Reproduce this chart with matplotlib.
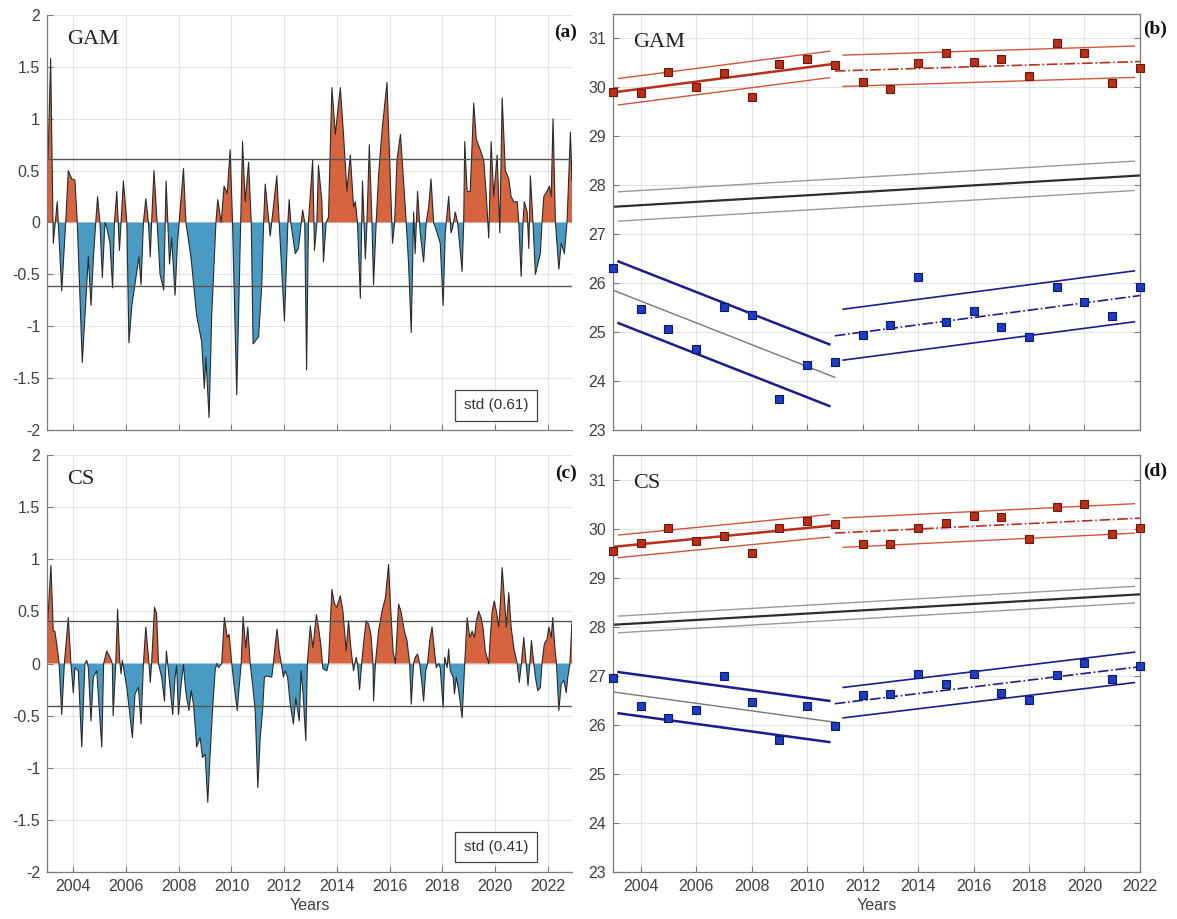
import numpy as np
import matplotlib
matplotlib.use("Agg")
import matplotlib.pyplot as plt
from matplotlib.ticker import FuncFormatter

plt.rcParams["axes.unicode_minus"] = False
plt.rcParams["font.family"] = ["Liberation Sans", "DejaVu Sans"]

# ---- anomaly series (turning points) ----
gam_t = [2003.00, 2003.04, 2003.14, 2003.24, 2003.39, 2003.56, 2003.71, 2003.81, 2003.94, 2004.06,
         2004.15, 2004.34, 2004.57, 2004.67, 2004.76, 2004.85, 2004.92, 2005.01, 2005.10, 2005.20,
         2005.27, 2005.39, 2005.49, 2005.56, 2005.65, 2005.75, 2005.90, 2006.03, 2006.11, 2006.22,
         2006.49, 2006.57, 2006.66, 2006.75, 2006.85, 2006.92, 2006.97, 2007.06, 2007.18, 2007.29,
         2007.43, 2007.52, 2007.65, 2007.73, 2007.86, 2007.95, 2008.18, 2008.27, 2008.33, 2008.47,
         2008.68, 2008.87, 2008.97, 2009.03, 2009.15, 2009.25, 2009.41, 2009.48, 2009.61, 2009.72,
         2009.84, 2009.95, 2010.04, 2010.20, 2010.42, 2010.52, 2010.65, 2010.75, 2010.82, 2011.03,
         2011.15, 2011.22, 2011.28, 2011.47, 2011.72, 2011.81, 2012.01, 2012.14, 2012.19, 2012.25,
         2012.42, 2012.54, 2012.70, 2012.78, 2012.85, 2012.92, 2013.08, 2013.15, 2013.24, 2013.30,
         2013.43, 2013.49, 2013.59, 2013.68, 2013.81, 2013.94, 2014.13, 2014.25, 2014.38, 2014.51,
         2014.63, 2014.70, 2014.78, 2014.89, 2014.97, 2015.08, 2015.14, 2015.23, 2015.33, 2015.39,
         2015.49, 2015.58, 2015.71, 2015.90, 2016.03, 2016.11, 2016.19, 2016.28, 2016.41, 2016.53,
         2016.63, 2016.72, 2016.82, 2016.91, 2016.97, 2017.06, 2017.16, 2017.29, 2017.39, 2017.48,
         2017.57, 2017.67, 2017.80, 2017.92, 2018.03, 2018.11, 2018.24, 2018.33, 2018.39, 2018.49,
         2018.58, 2018.75, 2018.81, 2018.85, 2018.94, 2019.06, 2019.19, 2019.29, 2019.44, 2019.57,
         2019.67, 2019.76, 2019.85, 2019.95, 2020.08, 2020.18, 2020.27, 2020.39, 2020.52, 2020.61,
         2020.71, 2020.84, 2020.90, 2020.99, 2021.06, 2021.11, 2021.22, 2021.28, 2021.34, 2021.44,
         2021.53, 2021.62, 2021.72, 2021.78, 2021.85, 2021.97, 2022.06, 2022.13, 2022.20, 2022.29,
         2022.42, 2022.51, 2022.63, 2022.73, 2022.86, 2022.92]
gam_v = [0.58, 0.62, 1.58, -0.20, 0.20, -0.66, 0.00, 0.50, 0.42, 0.41,
         0.00, -1.35, -0.33, -0.80, -0.35, 0.00, 0.25, 0.00, -0.53, 0.00,
         -0.05, -0.20, -0.63, 0.00, 0.30, -0.27, 0.40, 0.00, -1.16, -0.80,
         -0.33, -0.60, 0.00, 0.23, 0.00, -0.33, 0.00, 0.50, 0.00, -0.50,
         -0.65, 0.40, -0.40, -0.15, -0.70, -0.20, 0.52, 0.00, -0.10, -0.35,
         -0.90, -1.15, -1.60, -1.30, -1.88, -0.90, 0.00, 0.22, 0.00, 0.35,
         0.28, 0.70, 0.00, -1.66, 0.78, 0.20, 0.58, 0.00, -1.17, -1.10,
         -0.60, 0.00, 0.37, -0.13, 0.45, 0.00, -0.95, 0.00, 0.22, 0.00,
         -0.30, -0.25, 0.12, 0.00, -1.42, 0.00, 0.60, -0.27, 0.00, 0.55,
         0.20, -0.38, 0.00, 0.05, 1.30, 0.85, 1.30, 0.85, 0.30, 0.65,
         0.15, 0.20, 0.00, -0.73, 0.40, -0.35, 0.00, 0.75, 0.00, -0.60,
         0.00, 0.45, 0.88, 1.35, 0.40, -0.20, 0.00, 0.60, 0.85, 0.40,
         0.00, -0.40, -1.06, 0.10, -0.30, 0.30, -0.10, -0.38, 0.00, 0.15,
         0.42, 0.00, -0.10, -0.20, -0.80, -0.10, 0.25, -0.10, -0.05, 0.10,
         0.00, -0.47, 0.00, 0.78, 0.30, 0.30, 1.15, 0.80, 0.70, 0.60,
         0.25, -0.15, 0.78, 0.25, 0.65, -0.10, 1.20, 0.50, 0.42, 0.25,
         0.20, 0.20, 0.00, -0.52, 0.00, 0.20, 0.10, -0.25, 0.45, 0.00,
         -0.50, -0.40, -0.30, 0.00, 0.25, 0.30, 0.35, 0.25, 1.00, 0.00,
         -0.45, -0.20, -0.30, 0.00, 0.87, 0.40]
gam_std = 0.61

cs_t = [2003.00, 2003.03, 2003.15, 2003.24, 2003.30, 2003.39, 2003.46, 2003.56, 2003.66, 2003.75,
        2003.81, 2003.91, 2004.00, 2004.06, 2004.19, 2004.32, 2004.44, 2004.51, 2004.57, 2004.67,
        2004.76, 2004.89, 2004.97, 2005.08, 2005.15, 2005.27, 2005.39, 2005.48, 2005.51, 2005.61,
        2005.68, 2005.76, 2005.81, 2005.86, 2006.03, 2006.15, 2006.24, 2006.34, 2006.47, 2006.57,
        2006.66, 2006.75, 2006.82, 2006.87, 2006.92, 2006.97, 2007.08, 2007.16, 2007.23, 2007.35,
        2007.46, 2007.53, 2007.61, 2007.67, 2007.77, 2007.86, 2007.92, 2007.99, 2008.09, 2008.18,
        2008.24, 2008.30, 2008.39, 2008.47, 2008.56, 2008.68, 2008.81, 2008.90, 2009.00, 2009.10,
        2009.19, 2009.28, 2009.38, 2009.44, 2009.51, 2009.63, 2009.73, 2009.84, 2009.91, 2010.01,
        2010.11, 2010.22, 2010.29, 2010.37, 2010.44, 2010.54, 2010.62, 2010.71, 2010.80, 2010.90,
        2011.00, 2011.09, 2011.18, 2011.25, 2011.34, 2011.53, 2011.59, 2011.66, 2011.73, 2011.81,
        2011.89, 2011.97, 2012.04, 2012.13, 2012.23, 2012.35, 2012.44, 2012.57, 2012.64, 2012.72,
        2012.82, 2012.88, 2012.99, 2013.09, 2013.22, 2013.30, 2013.39, 2013.47, 2013.62, 2013.68,
        2013.81, 2013.91, 2014.00, 2014.13, 2014.23, 2014.35, 2014.44, 2014.53, 2014.63, 2014.73,
        2014.78, 2014.86, 2014.94, 2015.01, 2015.11, 2015.20, 2015.29, 2015.37, 2015.39, 2015.46,
        2015.58, 2015.71, 2015.84, 2015.96, 2016.03, 2016.13, 2016.22, 2016.34, 2016.43, 2016.56,
        2016.66, 2016.76, 2016.82, 2016.91, 2016.97, 2017.06, 2017.14, 2017.23, 2017.29, 2017.37,
        2017.44, 2017.52, 2017.61, 2017.70, 2017.77, 2017.86, 2017.92, 2018.03, 2018.09, 2018.18,
        2018.24, 2018.30, 2018.41, 2018.46, 2018.53, 2018.62, 2018.75, 2018.85, 2018.94, 2019.04,
        2019.13, 2019.22, 2019.29, 2019.38, 2019.47, 2019.54, 2019.63, 2019.76, 2019.82, 2019.89,
        2019.97, 2020.05, 2020.14, 2020.20, 2020.27, 2020.35, 2020.43, 2020.52, 2020.61, 2020.71,
        2020.84, 2020.92, 2021.00, 2021.09, 2021.18, 2021.25, 2021.32, 2021.38, 2021.47, 2021.53,
        2021.62, 2021.72, 2021.78, 2021.87, 2021.97, 2022.04, 2022.13, 2022.19, 2022.27, 2022.33,
        2022.42, 2022.51, 2022.61, 2022.70, 2022.76, 2022.84, 2022.92]
cs_v = [0.40, 0.41, 0.94, 0.31, 0.31, 0.15, 0.00, -0.49, 0.00, 0.27,
        0.44, 0.00, -0.28, -0.04, -0.07, -0.80, 0.00, 0.03, -0.04, -0.55,
        -0.13, -0.07, -0.39, -0.80, 0.00, 0.12, 0.06, 0.00, -0.50, 0.00,
        0.52, 0.03, -0.10, 0.03, -0.23, -0.50, -0.71, -0.29, -0.23, -0.58,
        0.00, 0.35, 0.15, 0.00, -0.18, 0.00, 0.54, 0.48, 0.00, -0.13,
        -0.36, 0.12, -0.07, -0.23, -0.49, -0.13, -0.02, -0.49, -0.20, -0.01,
        -0.20, -0.33, -0.45, -0.26, -0.39, -0.80, -0.71, -0.90, -0.87, -1.33,
        -0.87, -0.45, -0.07, 0.00, -0.04, 0.00, 0.44, 0.25, 0.28, 0.00,
        -0.23, -0.45, -0.23, 0.00, 0.45, 0.15, 0.35, 0.00, -0.20, -0.45,
        -1.19, -0.71, -0.45, -0.13, -0.12, -0.13, 0.00, 0.18, 0.33, 0.12,
        0.00, -0.13, -0.07, -0.13, -0.39, -0.58, -0.33, -0.55, -0.07, -0.30,
        -0.74, 0.00, 0.36, 0.15, 0.47, 0.35, 0.18, -0.05, -0.07, 0.00,
        0.71, 0.57, 0.54, 0.65, 0.50, 0.12, 0.41, 0.15, -0.07, 0.06,
        0.00, -0.25, 0.00, 0.19, 0.41, 0.38, 0.28, 0.00, -0.36, 0.00,
        0.31, 0.50, 0.63, 0.95, 0.57, 0.12, 0.00, 0.57, 0.50, 0.31,
        0.22, 0.00, -0.39, 0.00, 0.06, 0.09, 0.00, -0.20, -0.36, -0.07,
        0.00, 0.22, 0.35, 0.12, -0.04, 0.00, -0.04, -0.42, 0.06, -0.04,
        0.14, -0.07, -0.13, -0.29, -0.13, -0.26, -0.52, 0.00, 0.44, 0.25,
        0.31, 0.25, 0.41, 0.50, 0.44, 0.35, 0.12, 0.00, 0.25, 0.50,
        0.60, 0.50, 0.35, 0.57, 0.92, 0.63, 0.35, 0.68, 0.35, 0.15,
        0.00, -0.18, 0.00, 0.25, 0.00, -0.21, 0.00, 0.22, 0.00, -0.13,
        -0.26, -0.23, 0.00, 0.19, 0.23, 0.35, 0.25, 0.44, 0.15, 0.00,
        -0.45, -0.20, -0.16, -0.28, -0.13, 0.00, 0.40]
cs_std = 0.41

# ---- annual warm / cold season values ----
years = list(range(2003, 2023))
gam_warm = [29.90, 29.88, 30.32, 30.01, 30.29, 29.81, 30.48, 30.57, 30.45, 30.11,
            29.97, 30.50, 30.71, 30.51, 30.59, 30.23, 30.91, 30.71, 30.08, 30.40]
gam_cold = [26.30, 25.48, 25.07, 24.66, 25.52, 25.34, 23.63, 24.32, 24.38, 24.95,
            25.15, 26.12, 25.20, 25.44, 25.10, 24.91, 25.92, 25.62, 25.32, 25.92]
cs_warm = [29.55, 29.70, 30.02, 29.75, 29.84, 29.50, 30.02, 30.15, 30.10, 29.68,
           29.68, 30.02, 30.11, 30.26, 30.24, 29.78, 30.45, 30.50, 29.89, 30.02]
cs_cold = [26.95, 26.38, 26.13, 26.30, 26.99, 26.47, 25.69, 26.38, 25.97, 26.60,
           26.63, 27.04, 26.84, 27.03, 26.65, 26.51, 27.02, 27.27, 26.94, 27.20]

# break year between the two trend periods
break_year = 2011
# half-widths of the bands around each trend (2003-2011, 2011-2022)
gam_warm_band = [0.27, 0.32]
gam_cold_band = [0.63, 0.52]
cs_warm_band = [0.23, 0.30]
cs_cold_band = [0.42, 0.31]
# long-term (black) trend at 2003 and 2022, and its band
gam_mean_trend = [27.56, 28.20]
gam_mean_band = 0.30
cs_mean_trend = [28.04, 28.66]
cs_mean_band = 0.17

WARM_FILL = "#d6643f"
COLD_FILL = "#4a9bc4"
RED = "#b8301a"
RED_LIGHT = "#d2553c"
NAVY = "#1c1c8c"
TICK_COL = "#404040"
SERIF = ["Liberation Serif", "DejaVu Serif"]


def style_axes(ax, box):
    ax.set_axisbelow(True)
    ax.grid(True, color="#e4e4e4", lw=0.8)
    ax.tick_params(direction="in", length=4, color="#7a7a7a", labelcolor=TICK_COL,
                   labelsize=11.5, pad=5, right=box, top=False)
    for side, sp in ax.spines.items():
        sp.set_color("#7a7a7a")
        sp.set_linewidth(0.9)
        if not box and side in ("top", "right"):
            sp.set_visible(False)
    ax.set_xticks(np.arange(2004, 2023, 2))
    ax.yaxis.set_major_formatter(FuncFormatter(lambda v, p: "%g" % v))


def anomaly_panel(ax, t, v, std, name, tag, show_x):
    t = np.asarray(t)
    v = np.asarray(v)
    ax.fill_between(t, v, 0, where=v >= 0, interpolate=True, color=WARM_FILL, lw=0)
    ax.fill_between(t, v, 0, where=v <= 0, interpolate=True, color=COLD_FILL, lw=0)
    ax.plot(t, v, color="#2a2a2a", lw=0.8)
    ax.axhline(std, color="#555555", lw=1.0)
    ax.axhline(-std, color="#555555", lw=1.0)
    ax.set_xlim(2003, t[-1])
    ax.set_ylim(-2, 2)
    ax.set_yticks(np.arange(-2, 2.01, 0.5))
    style_axes(ax, box=False)
    ax.text(0.038, 0.965, name, transform=ax.transAxes, family=SERIF, fontsize=16,
            va="top", ha="left", color="#222222")
    ax.text(1.01, 0.957, tag, transform=ax.transAxes, family=SERIF, fontsize=14,
            fontweight="bold", va="center", ha="right", color="#111111")
    ax.text(0.855, 0.06, "std (%.2f)" % std, transform=ax.transAxes, fontsize=11,
            ha="center", va="center", color="#333333",
            bbox=dict(boxstyle="square,pad=0.55", fc="white", ec="#444444", lw=0.9))
    if show_x:
        ax.set_xlabel("Years", fontsize=11.5, color=TICK_COL, labelpad=3)
    else:
        ax.tick_params(labelbottom=False)


def seg_fit(yrs, vals, lo, hi):
    sel = (yrs >= lo) & (yrs <= hi)
    return np.polyfit(yrs[sel], vals[sel], 1)


def trend_panel(ax, warm, cold, warm_band, cold_band, mean_trend, mean_band, name, tag, show_x):
    yrs = np.array(years, dtype=float)
    periods = [(years[0], break_year), (break_year, years[-1])]

    # long-term trend with band
    ax.plot([years[0], years[-1]], mean_trend, color="#2e2e2e", lw=1.6)
    bx = np.array([years[0] + 0.2, years[-1] - 0.2])
    by = np.interp(bx, [years[0], years[-1]], mean_trend)
    ax.plot(bx, by + mean_band, color="#9a9a9a", lw=1.0)
    ax.plot(bx, by - mean_band, color="#9a9a9a", lw=1.0)

    for vals, band, kind in ((warm, warm_band, "warm"), (cold, cold_band, "cold")):
        vals = np.asarray(vals)
        for i, (lo, hi) in enumerate(periods):
            p = seg_fit(yrs, vals, lo, hi)
            cx = np.array([lo, hi], dtype=float)
            bxs = np.array([lo + (0.2 if i == 0 else 0.3), hi - 0.2])
            if kind == "warm":
                c_style = dict(color=RED, lw=1.8, ls="-") if i == 0 else dict(color=RED, lw=1.2, ls="-.")
                b_style = dict(color=RED_LIGHT, lw=1.0)
            else:
                c_style = dict(color="#777777", lw=1.0, ls="-") if i == 0 else dict(color=NAVY, lw=1.2, ls="-.")
                b_style = dict(color=NAVY, lw=1.8) if i == 0 else dict(color=NAVY, lw=1.2)
            ax.plot(cx, np.polyval(p, cx), **c_style)
            ax.plot(bxs, np.polyval(p, bxs) + band[i], **b_style)
            ax.plot(bxs, np.polyval(p, bxs) - band[i], **b_style)

    ax.plot(yrs, warm, ls="none", marker="s", ms=5.5, mfc="#b8301a", mec="#6e180b",
            mew=0.8, clip_on=False, zorder=5)
    ax.plot(yrs, cold, ls="none", marker="s", ms=5.5, mfc="#1f3cc0", mec="#0b1870",
            mew=0.8, clip_on=False, zorder=5)

    ax.set_xlim(years[0], years[-1])
    ax.set_ylim(23, 31.5)
    ax.set_yticks(np.arange(23, 32, 1))
    style_axes(ax, box=True)
    ax.text(0.038, 0.955, name, transform=ax.transAxes, family=SERIF, fontsize=16,
            va="top", ha="left", color="#222222")
    ax.text(1.006, 0.962, tag, transform=ax.transAxes, family=SERIF, fontsize=14,
            fontweight="bold", va="center", ha="left", color="#111111")
    if show_x:
        ax.set_xlabel("Years", fontsize=11.5, color=TICK_COL, labelpad=3)
    else:
        ax.tick_params(labelbottom=False)


fig = plt.figure(figsize=(11.77, 9.19), dpi=100)
ax_a = fig.add_axes([0.0399, 0.5321, 0.4461, 0.4516])
ax_c = fig.add_axes([0.0399, 0.0511, 0.4461, 0.4538])
ax_b = fig.add_axes([0.5208, 0.5321, 0.4477, 0.4527])
ax_d = fig.add_axes([0.5208, 0.0511, 0.4477, 0.4538])

anomaly_panel(ax_a, gam_t, gam_v, gam_std, "GAM", "(a)", show_x=False)
anomaly_panel(ax_c, cs_t, cs_v, cs_std, "CS", "(c)", show_x=True)
trend_panel(ax_b, gam_warm, gam_cold, gam_warm_band, gam_cold_band,
            gam_mean_trend, gam_mean_band, "GAM", "(b)", show_x=False)
trend_panel(ax_d, cs_warm, cs_cold, cs_warm_band, cs_cold_band,
            cs_mean_trend, cs_mean_band, "CS", "(d)", show_x=True)

fig.savefig("out.png", dpi=100)
